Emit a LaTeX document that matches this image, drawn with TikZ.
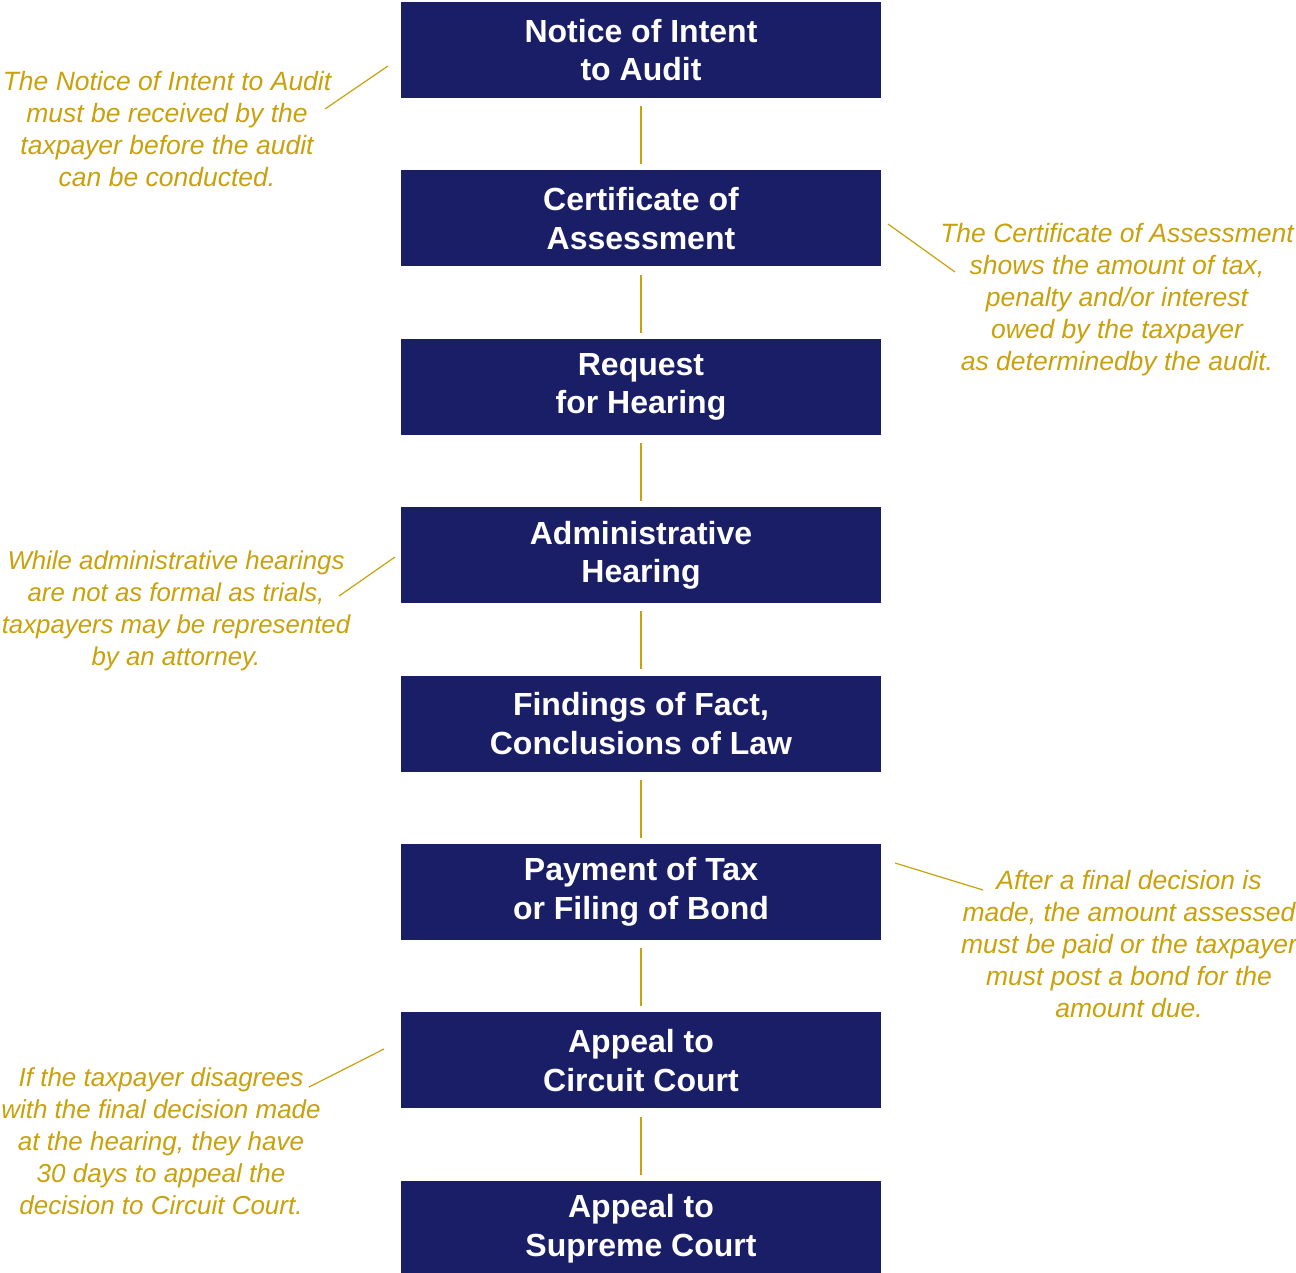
\documentclass[tikz,border=0pt]{standalone}
\usepackage{fontspec}
\setmainfont{Liberation Sans}
\usepackage{tikz}
\usetikzlibrary{positioning}

\definecolor{appealnavy}{RGB}{26,30,102}
\definecolor{appealgold}{RGB}{200,161,12}

\begin{document}
\begin{tikzpicture}[
		x=1pt, y=-1pt,
		stepbox/.style={
			rectangle,
			fill=appealnavy,
			text=white,
			minimum width=480pt,
			minimum height=96pt,
			align=center,
			font=\fontsize{32}{38.5}\selectfont\bfseries
		},
		note/.style={
			text=appealgold,
			align=center,
			inner sep=0pt,
			font=\fontsize{26.5}{32}\selectfont\itshape
		},
		link/.style={
			draw=appealgold,
			line width=1.2pt,
			shorten <=8pt,
			shorten >=6pt
		},
		leader/.style={
			draw=appealgold,
			line width=1.2pt
		}
		]
		\useasboundingbox (0,0) rectangle (1296,1272);
		
		% Steps of the appeal
		\node[stepbox] (notice) at (641,50) {Notice of Intent\\to Audit};
		\node[stepbox, below=72pt of notice] (certificate) {Certificate of\\Assessment};
		\node[stepbox, below=72pt of certificate] (request) {Request\\for Hearing};
		\node[stepbox, below=72pt of request] (hearing) {Administrative\\Hearing};
		\node[stepbox, below=72pt of hearing] (findings) {Findings of Fact,\\Conclusions of Law};
		\node[stepbox, below=72pt of findings] (payment) {Payment of Tax\\or Filing of Bond};
		\node[stepbox, below=72pt of payment] (circuit) {Appeal to\\Circuit Court};
		\node[stepbox, below=72pt of circuit] (supreme) {Appeal to\\Supreme Court};
		
		% Vertical connectors
		\draw[link] (notice) -- (certificate);
		\draw[link] (certificate) -- (request);
		\draw[link] (request) -- (hearing);
		\draw[link] (hearing) -- (findings);
		\draw[link] (findings) -- (payment);
		\draw[link] (payment) -- (circuit);
		\draw[link] (circuit) -- (supreme);
		
		% Side notes
		\node[note] (noticenote) at (167,129)
		{The Notice of Intent to Audit\\must be received by the\\taxpayer before the audit\\can be conducted.};
		
		\node[note] (certnote) at (1117,300)
		{The Certificate of Assessment\\shows the amount of tax,\\penalty and/or interest\\owed by the taxpayer\\as determinedby the audit.};
		
		\node[note, font=\fontsize{25.8}{32}\selectfont\itshape] (hearingnote) at (176,611)
		{While administrative hearings\\are not as formal as trials,\\taxpayers may be represented\\by an attorney.};
		
		\node[note] (paymentnote) at (1129,944)
		{After a final decision is\\made, the amount assessed\\must be paid or the taxpayer\\must post a bond for the\\amount due.};
		
		\node[note, font=\fontsize{26}{32}\selectfont\itshape] (circuitnote) at (161,1141)
		{If the taxpayer disagrees\\with the final decision made\\at the hearing, they have\\30 days to appeal the\\decision to Circuit Court.};
		
		% Leader lines
		\coordinate (noticefoot) at (325,109);
		\coordinate (noticetip) at (388,66);
		\coordinate (certtip) at (888,224);
		\coordinate (certfoot) at (955,272);
		\coordinate (hearingfoot) at (339,596);
		\coordinate (hearingtip) at (395,557);
		\coordinate (paymenttip) at (895,863);
		\coordinate (paymentfoot) at (983,890);
		\coordinate (circuitfoot) at (309,1087);
		\coordinate (circuittip) at (384,1049);
		
		\draw[leader] (noticefoot) -- (noticetip);
		\draw[leader] (certtip) -- (certfoot);
		\draw[leader] (hearingfoot) -- (hearingtip);
		\draw[leader] (paymenttip) -- (paymentfoot);
		\draw[leader] (circuitfoot) -- (circuittip);
		
	\end{tikzpicture}
\end{document}
